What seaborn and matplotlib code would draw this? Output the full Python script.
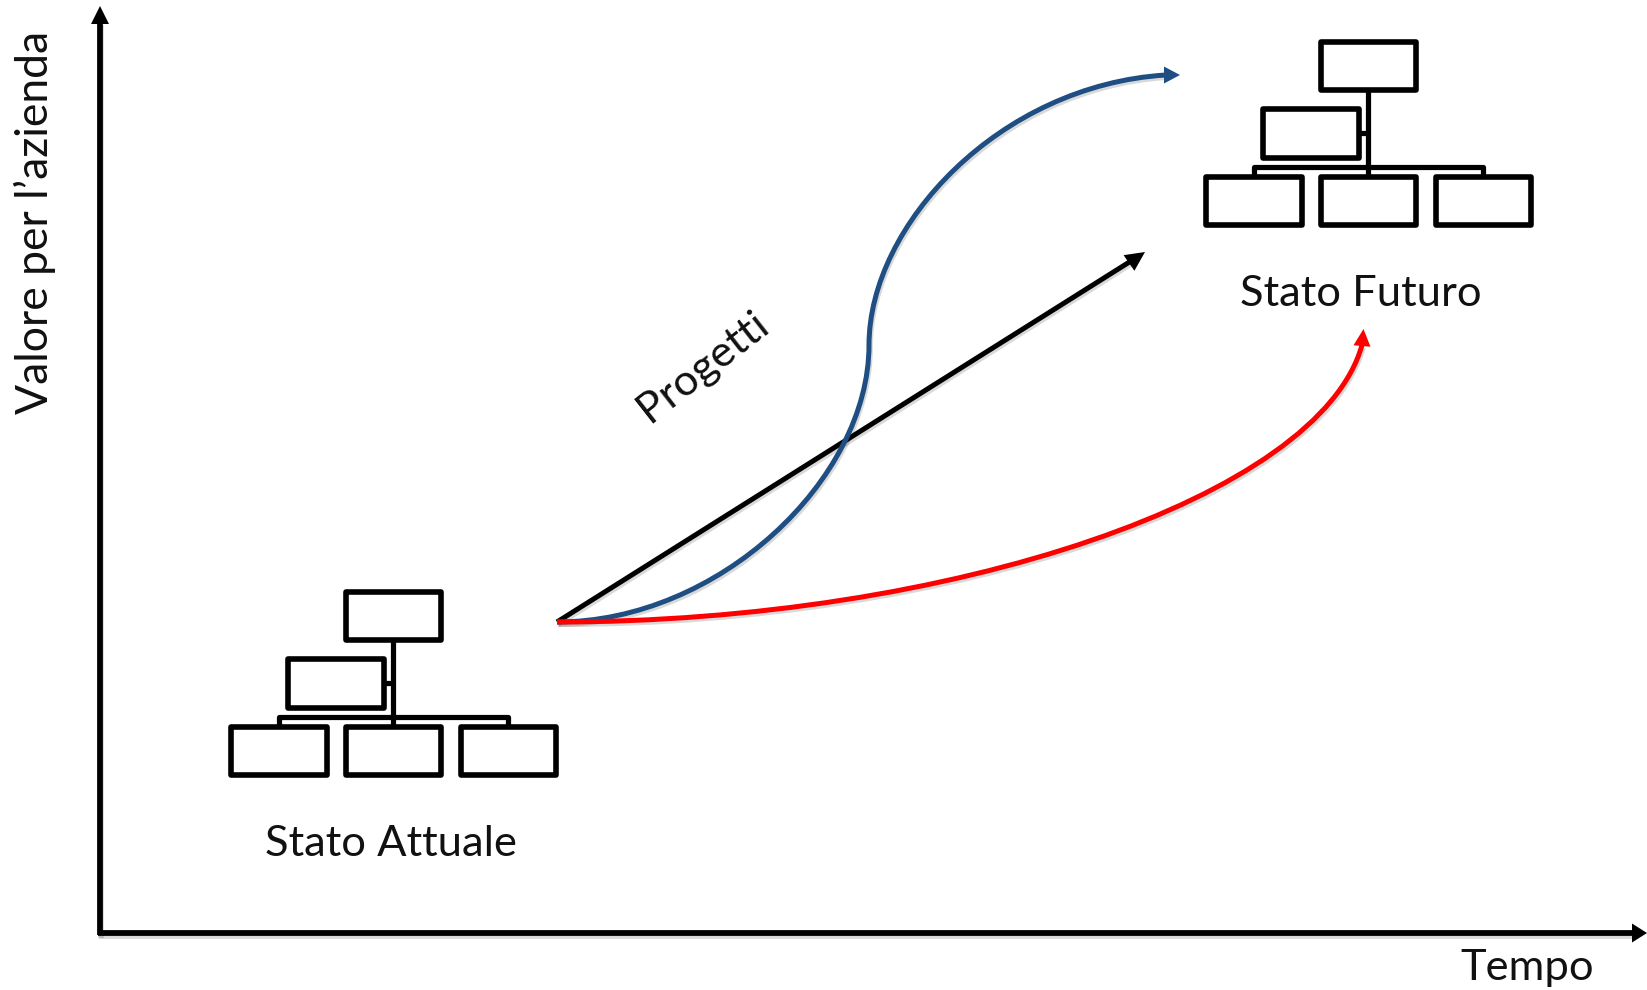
import matplotlib
matplotlib.use("Agg")
import matplotlib.pyplot as plt
import matplotlib.patheffects as pe
from matplotlib.patches import Rectangle, PathPatch
from matplotlib.path import Path
import seaborn as sns

# ---- data (pixel-like coordinates of the diagram) ----
# curved arrows: anchor and control points of the curves
blue_x = [557, 718, 869, 869, 869, 1000, 1166]
blue_y = [622, 622, 480, 345, 225, 85, 75]
red_x = [557, 950, 1320, 1362]
red_y = [622, 622, 497, 345]
black_x = [557, 1131]
black_y = [622, 261]
axis_v_x = [100, 100]
axis_v_y = [935, 22]
axis_h_x = [98, 1633]
axis_h_y = [933, 933]

box_left = [346, 288, 231, 346, 460.5]
box_right = [440.5, 383.5, 326.5, 440.5, 555.5]
box_top = [592, 659, 726.5, 726.5, 726.5]
box_bottom = [639.5, 707.5, 774.5, 774.5, 774.5]
link_x = [[393, 393], [383.5, 393], [278.5, 278.5, 508, 508]]
link_y = [[639.5, 727], [683, 683], [727, 717, 717, 727]]
chart_dx = [0, 975]
chart_dy = [0, -550]

state_labels = ["Stato Attuale", "Stato Futuro"]
project_label = "Progetti"
x_title = "Tempo"
y_title = "Valore per l\u2019azienda"

# ---- styling ----
sns.set_theme(style="white")
plt.rcParams["font.family"] = ["Lato", "DejaVu Sans"]
BLUE = "#1f4e82"
RED = "#ff0000"
BLACK = "#000000"
TXT = "#111111"
W, H = 1647, 990
PX = 0.72
FS = 31.3

fig = plt.figure(figsize=(16.47, 9.9), dpi=100, facecolor="white")
ax = fig.add_axes([0, 0, 1, 1])
ax.set_xlim(0, W)
ax.set_ylim(H, 0)
ax.set_xticks([])
ax.set_yticks([])
sns.despine(ax=ax, left=True, bottom=True)


def shadow():
    return [pe.SimpleLineShadow(offset=(1, -1.8), alpha=0.15, shadow_color="#000000"), pe.Normal()]


def line(xs, ys, color, px, z=3, shade=True, cap="butt"):
    sns.lineplot(x=xs, y=ys, sort=False, estimator=None, color=color, linewidth=px * PX,
                 ax=ax, legend=False, zorder=z, solid_capstyle=cap, solid_joinstyle="round")
    if shade:
        ax.lines[-1].set_path_effects(shadow())


def curve(xs, ys, color, px, z):
    codes = [Path.MOVETO] + [Path.CURVE4] * (len(xs) - 1)
    patch = PathPatch(Path(list(zip(xs, ys)), codes), fill=False, ec=color, lw=px * PX,
                      capstyle="butt", zorder=z)
    patch.set_path_effects(shadow())
    ax.add_patch(patch)


def head(tip, base, half, color, z=4):
    dx, dy = tip[0] - base[0], tip[1] - base[1]
    n = (dx * dx + dy * dy) ** 0.5
    ux, uy = -dy / n * half, dx / n * half
    ax.fill([tip[0], base[0] + ux, base[0] - ux], [tip[1], base[1] + uy, base[1] - uy],
            color=color, lw=0, zorder=z)


# axes arrows
line(axis_v_x, axis_v_y, BLACK, 5.8)
head((100, 6), (100, 24), 9, BLACK)
line(axis_h_x, axis_h_y, BLACK, 5.8)
head((1647, 933), (1632, 933), 9.5, BLACK)

# project arrows
line(black_x, black_y, BLACK, 5.0, z=3)
head((1145, 252), (1129, 263), 9.5, BLACK)
curve(blue_x, blue_y, BLUE, 5.0, z=4)
head((1180, 75), (1164, 75), 8.5, BLUE, z=5)
curve(red_x, red_y, RED, 5.0, z=5)
head((1363.5, 329), (1362, 346), 8.5, RED, z=6)

# organisation charts
for dx, dy in zip(chart_dx, chart_dy):
    for l, r, t, b in zip(box_left, box_right, box_top, box_bottom):
        ax.add_patch(Rectangle((l + dx, t + dy), r - l, b - t, fill=False, ec=BLACK,
                               lw=5.6 * PX, joinstyle="round", zorder=3))
    for xs, ys in zip(link_x, link_y):
        line([x + dx for x in xs], [y + dy for y in ys], BLACK, 5.2, shade=False)

# texts
ax.text(391, 844, state_labels[0], fontsize=FS, color=TXT, ha="center", va="center")
ax.text(1361, 294, state_labels[1], fontsize=FS, color=TXT, ha="center", va="center")
ax.text(703, 367, project_label, fontsize=FS, color=TXT, ha="center", va="center",
        rotation=38, rotation_mode="anchor")
ax.set_xlabel(x_title, fontsize=FS, color=TXT, labelpad=0, va="center", visible=True)
ax.xaxis.set_label_coords(1527 / W, 1 - 968 / H)
ax.set_ylabel(y_title, fontsize=32, color=TXT, labelpad=0, va="center", visible=True)
ax.yaxis.set_label_coords(35 / W, 1 - 222 / H)

fig.savefig("out.png", dpi=100, facecolor="white")
